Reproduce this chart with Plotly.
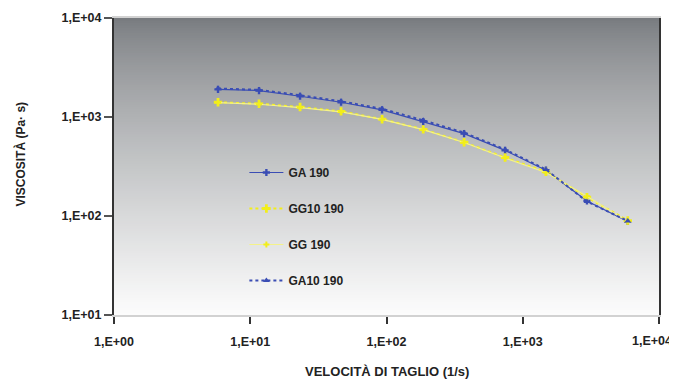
import plotly.graph_objects as go

# ---- data ----
shear_rate = [5.8, 11.6, 23.2, 46.4, 92.8, 186, 371, 742, 1480, 2960, 5900]
ga_190 = [1900, 1850, 1620, 1410, 1180, 900, 680, 460, 290, 142, 88]
gg10_190 = [1410, 1360, 1260, 1140, 950, 750, 556, 390, 280, 155, 90]
gg_190 = [1400, 1345, 1245, 1125, 945, 745, 552, 385, 275, 158, 88]
ga10_190 = [1940, 1880, 1660, 1440, 1210, 925, 695, 470, 295, 140, 89]

x_tickvals = [1, 10, 100, 1000, 10000]
x_ticktext = ["1,E+00", "1,E+01", "1,E+02", "1,E+03", "1,E+04"]
y_tickvals = [10, 100, 1000, 10000]
y_ticktext = ["1,E+01", "1,E+02", "1,E+03", "1,E+04"]

BLUE = "#3a4db4"
YELLOW = "#f2ee1a"
LIGHT_YELLOW = "#f4f28a"
FONT = "Liberation Sans"

# the page body has an 8px margin: work in window pixels and shift by OFF
OFF = 8
W, H = 677 - OFF, 379 - OFF
PL, PR, PT, PB = 113.5, 659, 18, 315   # plot area in window pixels
l, t = PL - OFF, PT - OFF
r = (677 - PR)
b = (379 - PB)

def px_x(xw):
    return (xw - PL) / (PR - PL)

def px_y(yw):
    return 1 - (yw - PT) / (PB - PT)

# the last x label sits left of its tick in the reference (to fit the page);
# it is written as an annotation at that spot instead of a centred tick label
x_ticklabels = x_ticktext[:-1] + [""]

fig = go.Figure()

fig.add_trace(go.Scatter(x=shear_rate, y=ga_190, name="GA 190", mode="lines+markers",
                         legendgroup="a",
                         line=dict(color=BLUE, width=1.2),
                         marker=dict(symbol="cross", size=6, color=BLUE)))
fig.add_trace(go.Scatter(x=shear_rate, y=gg10_190, name="GG10 190", mode="lines+markers",
                         legendgroup="b",
                         line=dict(color=YELLOW, width=2, dash="dot"),
                         marker=dict(symbol="cross", size=7, color=YELLOW)))
fig.add_trace(go.Scatter(x=shear_rate, y=gg_190, name="GG 190", mode="lines+markers",
                         legendgroup="c",
                         line=dict(color=LIGHT_YELLOW, width=1.2),
                         marker=dict(symbol="cross", size=5, color=YELLOW)))
fig.add_trace(go.Scatter(x=shear_rate, y=ga10_190, name="GA10 190", mode="lines+markers",
                         legendgroup="d",
                         line=dict(color=BLUE, width=2, dash="dot"),
                         marker=dict(symbol="triangle-up", size=6, color=BLUE)))

# gradient background for the plot area (overlapping strips to avoid seams)
shapes = []
n = 120
top = (120, 123, 127)
bot = (252, 252, 252)
for i in range(n):
    tt = (i / (n - 1)) ** 0.78
    c = tuple(round(top[k] + (bot[k] - top[k]) * tt) for k in range(3))
    shapes.append(dict(type="rect", xref="paper", yref="paper",
                       x0=0, x1=1, y0=max(0, 1 - (i + 1.8) / n), y1=1 - i / n,
                       fillcolor="rgb(%d,%d,%d)" % c, line=dict(width=0),
                       layer="below"))

tick_font = dict(family=FONT, size=12.5, color="#222", weight="bold")

fig.update_layout(
    width=W, height=H,
    margin=dict(l=l, r=r, t=t, b=b, autoexpand=False),
    paper_bgcolor="white", plot_bgcolor="white",
    shapes=shapes,
    font=dict(family=FONT, size=12, color="#222"),
    showlegend=True,
    legend=dict(x=px_x(244), y=px_y(158), xanchor="left", yanchor="top",
                bgcolor="rgba(0,0,0,0)", borderwidth=0, tracegroupgap=17,
                itemwidth=34,
                font=dict(family=FONT, size=12, color="#222", weight="bold")),
    xaxis=dict(type="log", range=[0, 4], tickvals=x_tickvals, ticktext=x_ticklabels,
               showgrid=False, zeroline=False,
               showline=True, linecolor="#d2d2d2", linewidth=1.5, mirror=True,
               ticks="outside", ticklen=7, tickwidth=2, tickcolor="#333",
               ticklabelstandoff=7,
               tickfont=tick_font),
    yaxis=dict(type="log", range=[1, 4], tickvals=y_tickvals, ticktext=y_ticktext,
               showgrid=False, zeroline=False,
               showline=True, linecolor="#333", linewidth=2, mirror=True,
               ticks="outside", ticklen=8, tickwidth=2, tickcolor="#555",
               ticklabeloverflow="allow",
               tickfont=tick_font),
    annotations=[
        dict(text=x_ticktext[-1], x=px_x(652), y=px_y(341),
             xanchor="center", yanchor="middle",
             xref="paper", yref="paper", showarrow=False, font=tick_font),
        dict(text="VELOCITÀ DI TAGLIO (1/s)", x=px_x(386.5), y=px_y(372),
             xanchor="center", yanchor="middle",
             xref="paper", yref="paper", showarrow=False,
             font=dict(family=FONT, size=13, color="#222", weight="bold")),
        dict(text="VISCOSITÀ (Pa· s)", x=px_x(19), y=px_y(154), textangle=-90,
             xanchor="center", yanchor="middle",
             xref="paper", yref="paper", showarrow=False,
             font=dict(family=FONT, size=12, color="#222", weight="bold")),
    ],
)

fig.write_html("out.html")
